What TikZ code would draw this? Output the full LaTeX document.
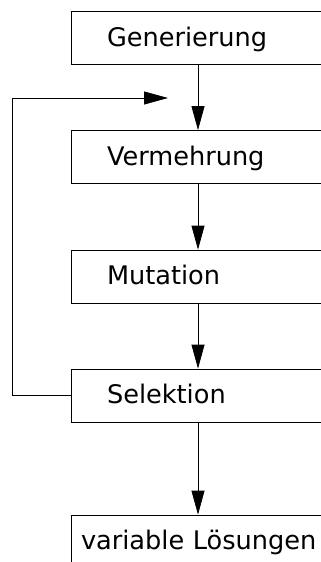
\documentclass[tikz,border=0pt]{standalone}
\usepackage{fontspec}
\setmainfont{DejaVu Sans}
\usetikzlibrary{arrows.meta}
\begin{document}
\begin{tikzpicture}[x=1pt,y=-1pt,
  box/.style={draw=black, line width=0.75pt, minimum width=254pt, minimum height=53pt,
    inner ysep=0pt, text height=20pt, text depth=4pt, align=left,
    font=\fontsize{25.6}{30}\selectfont},
  mainbox/.style={box, inner xsep=36pt, text width=182pt},
  lastbox/.style={box, inner xsep=10pt, text width=234pt},
  conn/.style={draw=black, line width=0.75pt, -{Triangle[length=24pt,width=13pt]}}]
\useasboundingbox (0,0) rectangle (321,562);
\clip (0,0) rectangle (321,562);
\node[mainbox] (gen) at (198,38) {Generierung};
\node[mainbox] (ver) at (198,157) {Vermehrung};
\node[mainbox] (mut) at (198,276.5) {Mutation};
\node[mainbox] (sel) at (198,395.5) {Selektion};
\node[lastbox] (var) at (198,541.5) {\mbox{variable Lösungen}};
\coordinate (fbend) at (168,98);
\draw[conn] (gen.south) -- (ver.north);
\draw[conn] (ver.south) -- (mut.north);
\draw[conn] (mut.south) -- (sel.north);
\draw[conn] (sel.south) -- (var.north);
\draw[conn] (sel.west) -- (12,395.5) -- (12,98) -- (fbend);
\end{tikzpicture}
\end{document}
